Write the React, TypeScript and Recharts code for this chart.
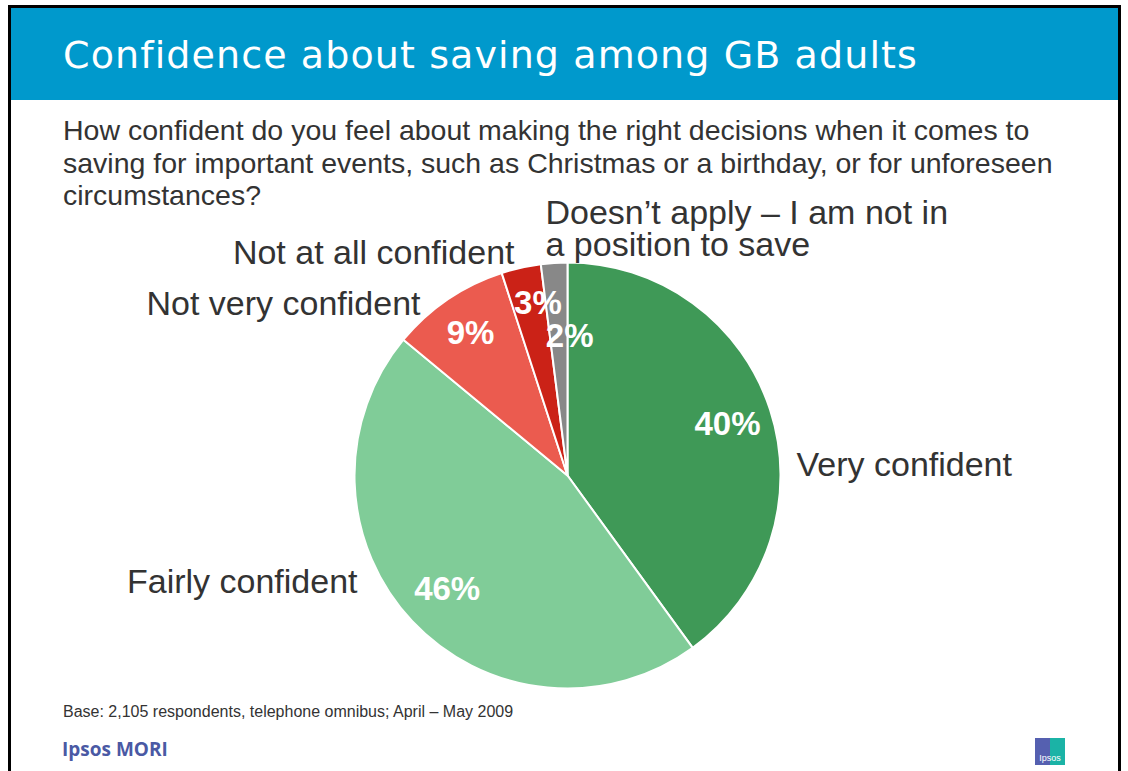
import React from 'react';
import { PieChart, Pie, Cell } from 'recharts';

const categories = [
  'Very confident',
  'Fairly confident',
  'Not very confident',
  'Not at all confident',
  'Doesn\u2019t apply \u2013 I am not in a position to save',
];
const shares = [40, 46, 9, 3, 2];
const sliceColors = ['#3F9957', '#80CC98', '#EB5B4F', '#CB2217', '#888888'];

const questionLines = [
  'How confident do you feel about making the right decisions when it comes to',
  'saving for important events, such as Christmas or a birthday, or for unforeseen',
  'circumstances?',
];

const data = categories.map((name, i) => ({ name, value: shares[i] }));

const RAD = Math.PI / 180;
const FONT = '"Liberation Sans", Arial, sans-serif';

// where the percent sits inside each slice (fraction of radius, small x nudge)
const pctRadius = [0.79, 0.775, 0.81, 0.83, 0.66];
const pctNudge = [0, 0, 0, 9, 11];

// category text placed around the pie, relative to its centre
const catPlace = [
  { dx: 229, dy: -12, anchor: 'start' },
  { dx: -210, dy: 105, anchor: 'end' },
  { dx: -147, dy: -173, anchor: 'end' },
  { dx: -53, dy: -224, anchor: 'end' },
  { dx: -22, dy: -264, anchor: 'start' },
];

const renderLabel = (props: any) => {
  const { cx, cy, midAngle, outerRadius, index, value } = props;
  const r = outerRadius * pctRadius[index];
  const x = cx + r * Math.cos(-midAngle * RAD) + pctNudge[index];
  const y = cy + r * Math.sin(-midAngle * RAD);
  const p = catPlace[index];
  const name: string = categories[index];
  const lines = index === 4 ? ['Doesn\u2019t apply \u2013 I am not in', 'a position to save'] : [name];
  return (
    <g>
      <text
        x={x}
        y={y}
        textAnchor="middle"
        dominantBaseline="central"
        fill="#ffffff"
        style={{ fontFamily: FONT, fontSize: 33, fontWeight: 700 }}
      >
        {`${value}%`}
      </text>
      <text
        x={cx + p.dx}
        y={cy + p.dy}
        textAnchor={p.anchor as any}
        dominantBaseline="central"
        fill="#333333"
        style={{ fontFamily: FONT, fontSize: 34 }}
      >
        {lines.map((ln, k) => (
          <tspan key={k} x={cx + p.dx} dy={k === 0 ? 0 : 32}>
            {ln}
          </tspan>
        ))}
      </text>
    </g>
  );
};

export default function App() {
  return (
    <div style={{ position: 'absolute', left: 0, top: 0, width: 1128, height: 771, overflow: 'hidden', background: '#fff', fontFamily: FONT }}>
      <div style={{ position: 'absolute', left: 8, top: 5, width: 1107, height: 790, border: '3px solid #000' }} />
      <div style={{ position: 'absolute', left: 11, top: 8, width: 1107, height: 92, background: '#0099CC' }}>
        <div style={{ position: 'absolute', left: 52, top: 28, color: '#fff', fontFamily: '"DejaVu Sans", sans-serif', fontSize: 38, lineHeight: '38px', letterSpacing: 1.1, whiteSpace: 'nowrap' }}>
          Confidence about saving among GB adults
        </div>
      </div>
      <div style={{ position: 'absolute', left: 63, top: 114, color: '#333', fontSize: 28.5, lineHeight: '32.5px', whiteSpace: 'nowrap' }}>
        {questionLines.map((l, i) => (
          <div key={i}>{l}</div>
        ))}
      </div>
      <div style={{ position: 'absolute', left: 63, top: 703, color: '#333', fontSize: 16, whiteSpace: 'nowrap' }}>
        Base: 2,105 respondents, telephone omnibus; April &ndash; May 2009
      </div>
      <div style={{ position: 'absolute', left: 62, top: 736, color: '#4A59A4', fontSize: 19, fontWeight: 700, fontFamily: '"Open Sans", sans-serif', whiteSpace: 'nowrap' }}>
        Ipsos MORI
      </div>
      <div style={{ position: 'absolute', left: 1035, top: 738, width: 30, height: 27, background: 'linear-gradient(90deg, #5560B0 0 50%, #1BB3A6 50% 100%)', color: '#fff', fontSize: 9, textAlign: 'center', lineHeight: '40px' }}>
        Ipsos
      </div>
      <div style={{ position: 'absolute', left: 0, top: 0 }}>
        <PieChart width={1128} height={771} margin={{ top: 0, right: 0, bottom: 0, left: 0 }}>
          <Pie
            data={data}
            dataKey="value"
            cx={567.5}
            cy={475.5}
            outerRadius={213}
            startAngle={90}
            endAngle={-270}
            stroke="#ffffff"
            strokeWidth={2}
            label={renderLabel}
            labelLine={false}
            isAnimationActive={false}
          >
            {data.map((d, i) => (
              <Cell key={`cell-${i}`} fill={sliceColors[i]} />
            ))}
          </Pie>
        </PieChart>
      </div>
    </div>
  );
}
